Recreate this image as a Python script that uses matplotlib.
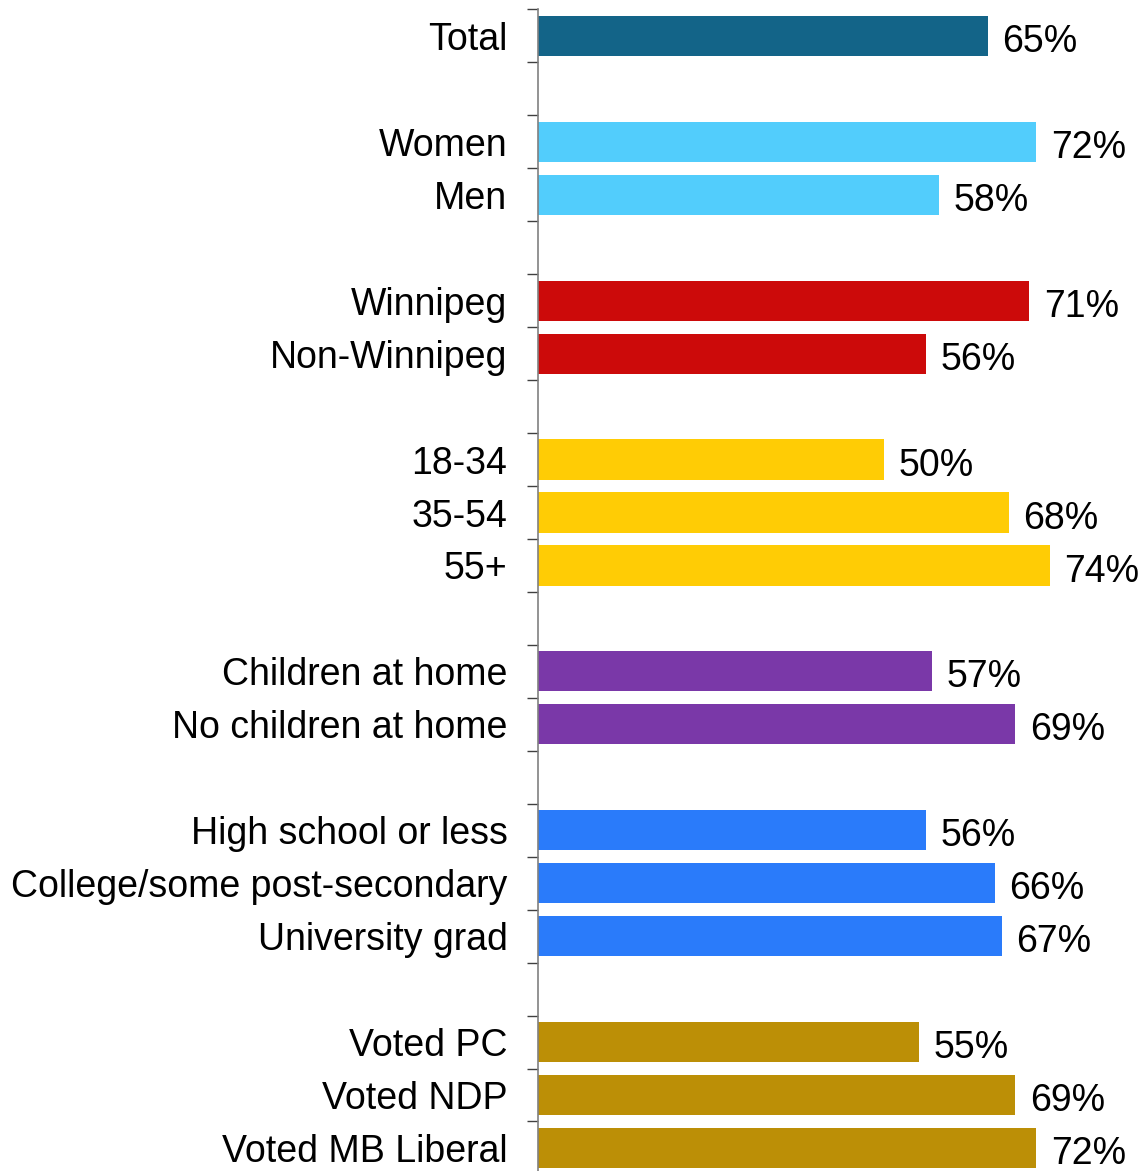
import matplotlib
matplotlib.use("Agg")
import matplotlib.pyplot as plt
import numpy as np

plt.rcParams['font.family'] = ['Liberation Sans', 'DejaVu Sans']

# groups of categories, separated by a blank slot
groups = [
    ["Total"],
    ["Women", "Men"],
    ["Winnipeg", "Non-Winnipeg"],
    ["18-34", "35-54", "55+"],
    ["Children at home", "No children at home"],
    ["High school or less", "College/some post-secondary", "University grad"],
    ["Voted PC", "Voted NDP", "Voted MB Liberal"],
]
values = [
    [65],
    [72, 58],
    [71, 56],
    [50, 68, 74],
    [57, 69],
    [56, 66, 67],
    [55, 69, 72],
]
colors = ["#136488", "#52CDFC", "#CC0A0A", "#FFCC05", "#7A38A8", "#2A7BFA", "#BC8F06"]

W, H = 1145, 1171
top_px, slot_px = 9.5, 52.95
fig = plt.figure(figsize=(W / 100, H / 100), dpi=100)
ax = fig.add_axes([538 / W, 0, 1 - 538 / W, (H - top_px) / H])

labels, ypos, vals, cols = [], [], [], []
slot = 0
for g, (names, v) in enumerate(zip(groups, values)):
    for n, val in zip(names, v):
        labels.append(n)
        ypos.append(slot)
        vals.append(val)
        cols.append(colors[g])
        slot += 1
    slot += 1
nslots = slot - 1

ax.barh(ypos, vals, height=0.76, color=cols, edgecolor="none")
for y, v in zip(ypos, vals):
    ax.text(v + 2.1, y + 0.04, f"{v}%", va="center_baseline", ha="left", fontsize=27)

ax.set_ylim(-0.5 + (H - top_px) / slot_px, -0.5)
ax.set_xlim(0, 607 / 6.92)
ax.set_yticks(ypos)
ax.set_yticklabels(labels, fontsize=27)
ax.tick_params(axis="y", which="major", length=0, pad=22)
ax.set_yticks(np.arange(nslots) - 0.5, minor=True)
ax.tick_params(axis="y", which="minor", length=8, width=1, color="#404040")
ax.set_xticks([])
for s in ["top", "right", "bottom"]:
    ax.spines[s].set_visible(False)
ax.spines["left"].set_color("#808080")
ax.spines["left"].set_linewidth(1.2)

fig.savefig("out.png", dpi=100)
